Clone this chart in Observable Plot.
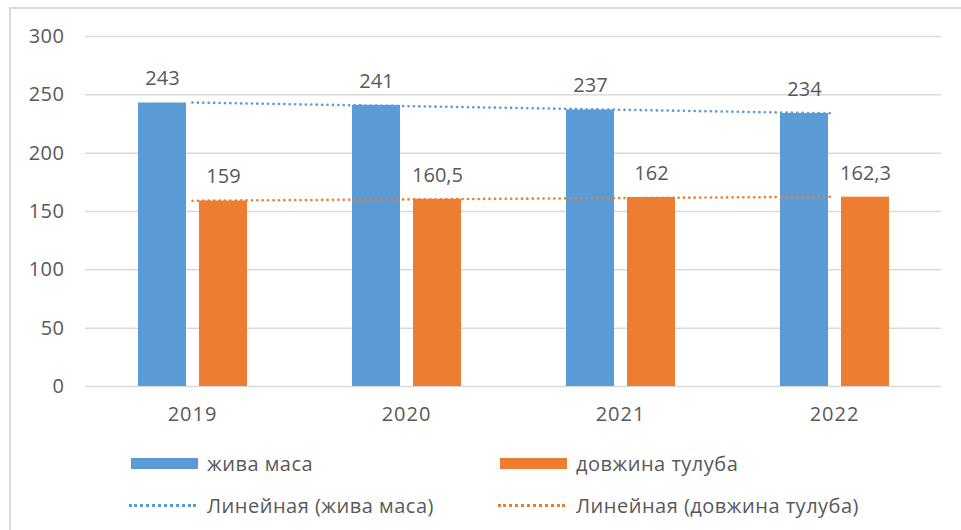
<!DOCTYPE html>
<html>
<head>
<meta charset="utf-8">
<script src="https://cdn.jsdelivr.net/npm/d3@7"></script>
<script src="https://cdn.jsdelivr.net/npm/@observablehq/plot@0.6"></script>
<style>
  html, body { margin: 0; padding: 0; background: #fff; }
  body { width: 961px; height: 530px; position: relative; overflow: hidden; font-family: "Open Sans", sans-serif; }
  #frame { position: absolute; left: 9px; top: 7px; right: -10px; bottom: -10px; border-left: 2px solid #d9d9d9; border-top: 2px solid #d9d9d9; pointer-events: none; }
  #chart { position: absolute; left: 0; top: 0; }
  .leg { position: absolute; display: flex; align-items: center; font-size: 20px; letter-spacing: 0.5px; color: #595959; white-space: nowrap; }
  .sw { width: 67px; height: 11px; margin-right: 9px; }
  .dl { width: 67px; height: 0; margin-right: 11px; border-top: 3px dotted; }
  #chart svg g[aria-label="x-axis tick label"] text { letter-spacing: 1px; }
  #chart svg g[aria-label="y-axis tick label"] text { letter-spacing: 0.5px; }
</style>
</head>
<body>
<div id="chart"></div>
<div id="frame"></div>
<div id="legend"></div>
<script>
const years = ["2019", "2020", "2021", "2022"];
const zhyvaMasa = [243, 241, 237, 234];
const dovzhynaTuluba = [159, 160.5, 162, 162.3];
const seriesNames = ["жива маса", "довжина тулуба"];
const trendNames = ["Линейная (жива маса)", "Линейная (довжина тулуба)"];
const colors = ["#5b9bd5", "#ed7d31"];
const yTicks = [0, 50, 100, 150, 200, 250, 300];

const fmt = v => String(v).replace(".", ",");

function linreg(vals) {
  const xs = vals.map((_, i) => i);
  const mx = d3.mean(xs), my = d3.mean(vals);
  const b = d3.sum(xs, (x, i) => (x - mx) * (vals[i] - my)) / d3.sum(xs, x => (x - mx) ** 2);
  const a = my - b * mx;
  return xs.map(x => a + b * x);
}

const blue = years.map((y, i) => ({year: y, value: zhyvaMasa[i]}));
const orange = years.map((y, i) => ({year: y, value: dovzhynaTuluba[i]}));
const blueTrend = linreg(zhyvaMasa).map((v, i) => ({year: years[i], value: v}));
const orangeTrend = linreg(dovzhynaTuluba).map((v, i) => ({year: years[i], value: v}));

const font = "Open Sans, sans-serif";
const txt = "#595959";

const chart = Plot.plot({
  width: 961,
  height: 440,
  marginLeft: 85,
  marginRight: 20,
  marginTop: 36,
  marginBottom: 54,
  style: {fontFamily: font, fontSize: "20px", color: txt, background: "transparent"},
  x: {domain: years, padding: 0, label: null},
  y: {domain: [0, 300], label: null},
  marks: [
    Plot.gridY(yTicks, {stroke: "#d9d9d9", strokeOpacity: 1, strokeWidth: 1.5}),
    Plot.axisY(yTicks, {tickSize: 0, tickPadding: 21, fontSize: 20, fill: txt, label: null}),
    Plot.axisX({tickSize: 0, tickPadding: 20, fontSize: 20, fill: txt, label: null}),
    Plot.barY(blue, {x: "year", y: "value", fill: colors[0], insetLeft: 53, insetRight: 113}),
    Plot.barY(orange, {x: "year", y: "value", fill: colors[1], insetLeft: 114, insetRight: 52}),
    Plot.lineY(blueTrend, {x: "year", y: "value", stroke: colors[0], strokeWidth: 2.6, strokeDasharray: "0.1,5.3", strokeLinecap: "round"}),
    Plot.lineY(orangeTrend, {x: "year", y: "value", stroke: colors[1], strokeWidth: 2.6, strokeDasharray: "0.1,5.3", strokeLinecap: "round"}),
    Plot.text(blue, {x: "year", y: "value", text: d => fmt(d.value), dx: -30, dy: -24, fill: txt, fontSize: 20, lineAnchor: "middle", letterSpacing: "0.5px"}),
    Plot.text(orange, {x: "year", y: "value", text: d => fmt(d.value), dx: 31, dy: -24, fill: txt, fontSize: 20, lineAnchor: "middle", letterSpacing: "0.5px"})
  ]
});
document.getElementById("chart").appendChild(chart);

const legend = document.getElementById("legend");
const items = [
  {label: seriesNames[0], color: colors[0], type: "sw", left: 131, top: 463},
  {label: seriesNames[1], color: colors[1], type: "sw", left: 500, top: 463},
  {label: trendNames[0], color: colors[0], type: "dl", left: 129, top: 505},
  {label: trendNames[1], color: colors[1], type: "dl", left: 498, top: 505}
];
for (const it of items) {
  const d = document.createElement("div");
  d.className = "leg";
  d.style.left = it.left + "px";
  d.style.top = (it.top - 14) + "px";
  d.style.height = "28px";
  const s = document.createElement("span");
  s.className = it.type;
  if (it.type === "sw") s.style.background = it.color; else s.style.borderTopColor = it.color;
  const t = document.createElement("span");
  t.textContent = it.label;
  d.appendChild(s); d.appendChild(t);
  legend.appendChild(d);
}
</script>
</body>
</html>
